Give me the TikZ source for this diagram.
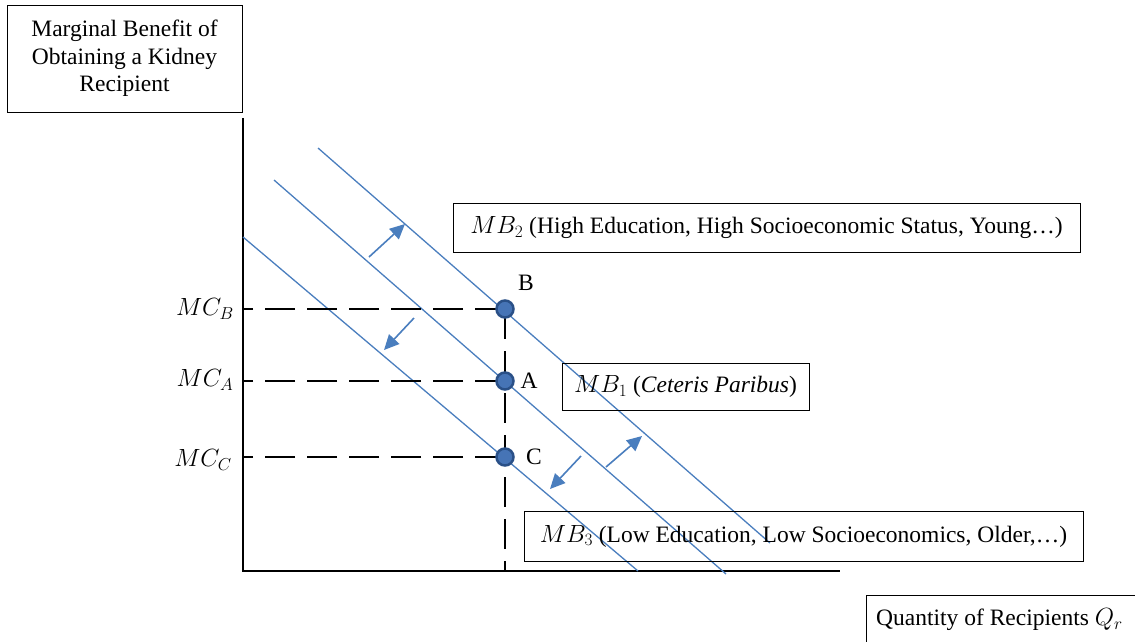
\documentclass[tikz,border=0pt]{standalone}
\usepackage{fontspec}
\setmainfont{Liberation Serif}
\usetikzlibrary{arrows.meta}
\definecolor{LineBlue}{RGB}{74,126,190}
\definecolor{DotBlue}{RGB}{70,116,182}
\definecolor{DotEdge}{RGB}{42,80,135}

\begin{document}
\begin{tikzpicture}[x=1pt, y=-1pt,
        lbox/.style={draw, line width=1pt, inner sep=0pt, align=center, font=\fontsize{23.5}{27.5}\selectfont},
        txt/.style={inner sep=0pt, font=\fontsize{23.5}{27.5}\selectfont},
        curve/.style={LineBlue, line width=1.3pt},
        shiftarr/.style={-{Triangle[length=15pt,width=14pt]}, LineBlue, line width=1.6pt},
        guide/.style={line width=1.6pt, dash pattern=on 30pt off 12pt},
        pt/.style={circle, fill=DotBlue, draw=DotEdge, line width=2.5pt, minimum size=17pt, inner sep=0pt}
    ]
        \useasboundingbox (0,0) rectangle (1135,641);

        % axis label boxes
        \node[lbox, minimum width=235pt, minimum height=107pt] (ylab) at (124.5,58.5)
            {Marginal Benefit of\\Obtaining a Kidney\\Recipient};
        \node[txt, anchor=west] (xlab) at (876,620) {Quantity of Recipients $Q_r$};
        \draw[line width=1pt] (866,660) |- (1150,595);

        % axes
        \coordinate (orig) at (243,571);
        \draw[line width=1.3pt] (243,118) -- (orig) -- (840,571);

        % marginal benefit curves
        \coordinate (mb3s) at (243,237);
        \coordinate (mb3e) at (638,571);
        \coordinate (mb1s) at (274,180);
        \coordinate (mb1e) at (726,574);
        \coordinate (mb2s) at (318,148);
        \coordinate (mb2e) at (770,543);
        \draw[curve] (mb3s) -- (mb3e);
        \draw[curve] (mb1s) -- (mb1e);
        \draw[curve] (mb2s) -- (mb2e);

        % guide lines to the axes
        \coordinate (gB) at (505,309);
        \coordinate (gA) at (505,381);
        \coordinate (gC) at (505,457);
        \draw[guide] (gB) -- (243,309);
        \draw[guide] (gA) -- (243,381);
        \draw[guide] (gC) -- (243,457);
        \draw[guide] (gB) -- (505,571);

        % equilibrium points
        \node[pt] (ptB) at (gB) {};
        \node[pt] (ptA) at (gA) {};
        \node[pt] (ptC) at (gC) {};
        \node[txt] at (526,283) {B};
        \node[txt] at (529,381) {A};
        \node[txt] at (534,457) {C};

        \node[txt] (mcB) at (205,309) {$MC_B$};
        \node[txt] (mcA) at (205,380) {$MC_A$};
        \node[txt] (mcC) at (203,460) {$MC_C$};

        % shift arrows
        \coordinate (s1a) at (369,257); \coordinate (s1b) at (405,224);
        \coordinate (s2a) at (414,318); \coordinate (s2b) at (384,350);
        \coordinate (s3a) at (581,456); \coordinate (s3b) at (550,489);
        \coordinate (s4a) at (606,467); \coordinate (s4b) at (642,436);
        \draw[shiftarr] (s1a) -- (s1b);
        \draw[shiftarr] (s2a) -- (s2b);
        \draw[shiftarr] (s3a) -- (s3b);
        \draw[shiftarr] (s4a) -- (s4b);

        % curve labels
        \node[lbox, minimum width=627pt, minimum height=49pt] (mb2) at (766.5,227.5)
            {$MB_2$ (High Education, High Socioeconomic Status, Young\ldots)};
        \node[lbox, minimum width=247pt, minimum height=47pt] (mb1) at (685.5,386.5)
            {$MB_1$ (\textit{Ceteris Paribus})};
        \node[lbox, minimum width=559pt, minimum height=50pt] (mb3) at (803.5,536)
            {$MB_3$ (Low Education, Low Socioeconomics, Older,\ldots)};
    \end{tikzpicture}
\end{document}
